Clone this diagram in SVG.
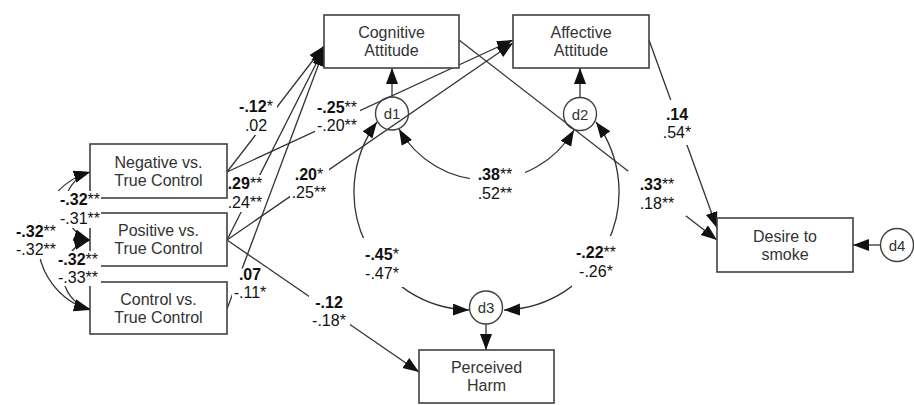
<svg xmlns="http://www.w3.org/2000/svg" width="914" height="405" viewBox="0 0 914 405">
<style>
.box{fill:#fff;stroke:#404040;stroke-width:1.6}
.lat{fill:none;stroke:#404040;stroke-width:1.4}
.nt{font-family:"Liberation Sans",Arial,sans-serif;font-size:16px;fill:#333;text-anchor:middle}
.dt{font-family:"Liberation Sans",Arial,sans-serif;font-size:15px;fill:#333;text-anchor:middle}
.ln{fill:none;stroke:#333;stroke-width:1.3}
.lb{font-family:"Liberation Sans",Arial,sans-serif;font-size:16px;fill:#111;text-anchor:middle}
.b{font-weight:bold}
.bg{fill:#fff}
</style>
<defs>
<marker id="ah" markerUnits="userSpaceOnUse" markerWidth="18" markerHeight="13" refX="16" refY="6" orient="auto-start-reverse">
<path d="M0,0 L16,6 L0,12 z" fill="#111"/>
</marker>
</defs>
<rect x="0" y="0" width="914" height="405" fill="#fff"/>
<g id="connectors">
<path class="ln" d="M227,172 L324,46" marker-end="url(#ah)"/>
<path class="ln" d="M227,172 L513,40" marker-end="url(#ah)"/>
<path class="ln" d="M227,240 L324,48" marker-end="url(#ah)"/>
<path class="ln" d="M227,240 L513,43" marker-end="url(#ah)"/>
<path class="ln" d="M227,240 L419,372" marker-end="url(#ah)"/>
<path class="ln" d="M227,309 L324,50" marker-end="url(#ah)"/>
<path class="ln" d="M459,40 L717,240" marker-end="url(#ah)"/>
<path class="ln" d="M649,40 L717,228" marker-end="url(#ah)"/>
<path class="ln" d="M392,97 L392,68" marker-end="url(#ah)"/>
<path class="ln" d="M580,97.5 L580,68" marker-end="url(#ah)"/>
<path class="ln" d="M486,324 L486,350" marker-end="url(#ah)"/>
<path class="ln" d="M880.5,245 L853,245" marker-end="url(#ah)"/>
<path class="ln" d="M399,129 A101,101 0 0 0 574,130" marker-start="url(#ah)" marker-end="url(#ah)"/>
<path class="ln" d="M377,122 A118,118 0 0 0 469,310" marker-start="url(#ah)" marker-end="url(#ah)"/>
<path class="ln" d="M596,122 A118,118 0 0 1 504,310" marker-start="url(#ah)" marker-end="url(#ah)"/>
<path class="ln" d="M90,172 A35.6,35.6 0 0 0 90,240" marker-start="url(#ah)" marker-end="url(#ah)"/>
<path class="ln" d="M90,240 A35.6,35.6 0 0 0 90,309" marker-start="url(#ah)" marker-end="url(#ah)"/>
<path class="ln" d="M90,172 A71.8,71.8 0 0 0 90,310" marker-start="url(#ah)" marker-end="url(#ah)"/>
</g>
<g id="neg">
<rect class="box" x="90" y="144" width="137" height="54"/>
<text class="nt" x="158.5" y="167.5">Negative vs.</text>
<text class="nt" x="158.5" y="185.5">True Control</text>
</g>
<g id="pos">
<rect class="box" x="90" y="213" width="137" height="53"/>
<text class="nt" x="158.5" y="236">Positive vs.</text>
<text class="nt" x="158.5" y="254">True Control</text>
</g>
<g id="ctrl">
<rect class="box" x="90" y="282" width="137" height="52"/>
<text class="nt" x="158.5" y="304.5">Control vs.</text>
<text class="nt" x="158.5" y="322.5">True Control</text>
</g>
<g id="cog">
<rect class="box" x="324" y="15" width="135" height="53"/>
<text class="nt" x="391.5" y="38">Cognitive</text>
<text class="nt" x="391.5" y="56">Attitude</text>
</g>
<g id="aff">
<rect class="box" x="513" y="15" width="136" height="53"/>
<text class="nt" x="581" y="38">Affective</text>
<text class="nt" x="581" y="56">Attitude</text>
</g>
<g id="harm">
<rect class="box" x="419" y="350" width="135" height="53"/>
<text class="nt" x="486.5" y="373">Perceived</text>
<text class="nt" x="486.5" y="391">Harm</text>
</g>
<g id="desire">
<rect class="box" x="717" y="218" width="136" height="54"/>
<text class="nt" x="785" y="241.5">Desire to</text>
<text class="nt" x="785" y="259.5">smoke</text>
</g>
<g id="d1"><circle class="lat" cx="392" cy="113.5" r="16.5"/><text class="dt" x="392" y="119">d1</text></g>
<g id="d2"><circle class="lat" cx="580" cy="114" r="16.5"/><text class="dt" x="580" y="119.5">d2</text></g>
<g id="d3"><circle class="lat" cx="486" cy="307.5" r="16.5"/><text class="dt" x="486" y="313">d3</text></g>
<g id="d4"><circle class="lat" cx="897" cy="245" r="16.5"/><text class="dt" x="897" y="250.5">d4</text></g>
<g id="labels">
<rect class="bg" x="236" y="98" width="41" height="37"/>
<text class="lb" x="256" y="112"><tspan class="b">-.12</tspan>*</text>
<text class="lb" x="256" y="131">.02</text>
<rect class="bg" x="315" y="99" width="45" height="36"/>
<text class="lb" x="337" y="113"><tspan class="b">-.25</tspan>**</text>
<text class="lb" x="337" y="131">-.20**</text>
<rect class="bg" x="290" y="166" width="39" height="36"/>
<text class="lb" x="309" y="180"><tspan class="b">.20</tspan>*</text>
<text class="lb" x="309" y="198">.25**</text>
<rect class="bg" x="228.5" y="175" width="33.5" height="37"/>
<text class="lb" x="245" y="189"><tspan class="b">.29</tspan>**</text>
<text class="lb" x="245" y="208">.24**</text>
<rect class="bg" x="232" y="268.5" width="36" height="33"/>
<text class="lb" x="250" y="280"><tspan class="b">.07</tspan></text>
<text class="lb" x="250" y="298">-.11*</text>
<rect class="bg" x="309" y="294" width="41" height="36"/>
<text class="lb" x="329" y="308"><tspan class="b">-.12</tspan></text>
<text class="lb" x="329" y="326">-.18*</text>
<rect class="bg" x="358" y="238" width="46" height="49"/>
<text class="lb" x="382" y="260"><tspan class="b">-.45</tspan>*</text>
<text class="lb" x="382" y="279">-.47*</text>
<rect class="bg" x="470" y="165" width="55" height="38"/>
<text class="lb" x="495" y="180"><tspan class="b">.38</tspan>**</text>
<text class="lb" x="495" y="199">.52**</text>
<rect class="bg" x="572" y="236" width="50" height="52"/>
<text class="lb" x="596" y="258"><tspan class="b">-.22</tspan>**</text>
<text class="lb" x="596" y="277">-.26*</text>
<rect class="bg" x="662" y="100" width="35" height="45"/>
<text class="lb" x="677" y="120"><tspan class="b">.14</tspan></text>
<text class="lb" x="677" y="138">.54*</text>
<rect class="bg" x="628" y="171" width="58" height="45"/>
<text class="lb" x="657" y="190"><tspan class="b">.33</tspan>**</text>
<text class="lb" x="657" y="209">.18**</text>
<rect class="bg" x="40" y="191" width="61" height="37"/>
<text class="lb" x="80" y="205"><tspan class="b">-.32</tspan>**</text>
<text class="lb" x="80" y="224">-.31**</text>
<rect class="bg" x="14" y="223" width="44" height="36"/>
<text class="lb" x="36" y="237"><tspan class="b">-.32</tspan>**</text>
<text class="lb" x="36" y="255">-.32**</text>
<rect class="bg" x="56" y="251" width="45" height="35"/>
<text class="lb" x="78" y="265"><tspan class="b">-.32</tspan>**</text>
<text class="lb" x="78" y="283">-.33**</text>
</g>
</svg>
